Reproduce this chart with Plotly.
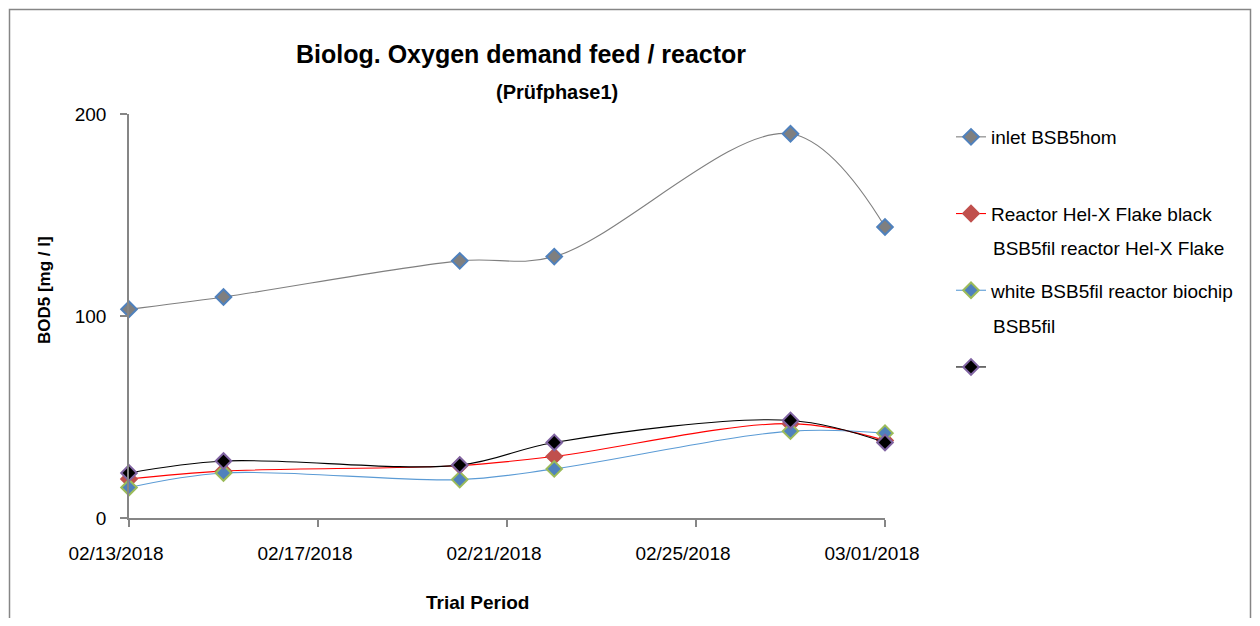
import plotly.graph_objects as go

dates = ["2018-02-13", "2018-02-15", "2018-02-20", "2018-02-22", "2018-02-27", "2018-03-01"]
inlet = [103.3, 109.4, 127.3, 129.4, 190.2, 144.1]
helx_black = [19.3, 23.2, 26.0, 30.5, 46.7, 38.4]
biochip_white = [15.1, 22.3, 19.0, 24.3, 43.0, 42.0]
biochip = [22.3, 28.2, 26.2, 37.4, 48.3, 37.4]

names = ["inlet BSB5hom", "Reactor Hel-X Flake black", "white BSB5fil reactor biochip", " "]
second_lines = ["BSB5fil reactor Hel-X Flake", "BSB5fil"]

FONT = "Liberation Sans, Arial, sans-serif"
AX = "#868686"

OFF = 8  # page body margin
# plot area in screen pixels
L, R, T, B = 129, 885, 114, 518
W, H = 1260 - 2 * OFF, 626 - 2 * OFF  # figure size so the page does not scroll
def px(x): return (x - L) / (R - L)
def py(y): return (B - y) / (B - T)

series = [
    (inlet, names[0], "#7f7f7f", "#7f7f7f", "#4f81bd"),
    (helx_black, names[1], "#ff0000", "#c0504d", "#c0504d"),
    (biochip_white, names[2], "#5b9bd5", "#4f81bd", "#9bbb59"),
    (biochip, names[3], "#000000", "#000000", "#8064a2"),
]

fig = go.Figure()
for i, (vals, nm, lc, mf, mb) in enumerate(series):
    fig.add_trace(go.Scatter(
        x=dates, y=vals, name=nm, mode="lines+markers", cliponaxis=False,
        line=dict(color=lc, width=1.1, shape="spline", smoothing=1.0),
        marker=dict(symbol="diamond", size=12, color=mf, line=dict(color=mb, width=2)),
        legendgroup=f"g{i}",
    ))

fig.update_layout(
    width=W, height=H,
    margin=dict(l=L - OFF, r=W - (R - OFF), t=T - OFF, b=H - (B - OFF)),
    paper_bgcolor="white", plot_bgcolor="white",
    font=dict(family=FONT, size=19, color="black"),
    showlegend=True,
    legend=dict(
        xref="container", yref="container",
        x=(951 - OFF) / W, y=1 - (118 - OFF) / H, xanchor="left", yanchor="top",
        font=dict(size=19, family=FONT), tracegroupgap=49,
        bgcolor="rgba(0,0,0,0)", itemwidth=30,
    ),
    xaxis=dict(
        type="date", range=["2018-02-13", "2018-03-01"],
        tick0="2018-02-13", dtick=4 * 86400000, tickformat="%m/%d/%Y",
        ticks="outside", ticklen=7, tickcolor=AX, tickwidth=1.5,
        showline=True, linecolor=AX, linewidth=1.5, showgrid=False, zeroline=False,
        ticklabelstandoff=10, ticklabelshift=-13,
        tickfont=dict(size=19, family=FONT),
    ),
    yaxis=dict(
        range=[0, 200], dtick=100,
        ticks="outside", ticklen=7, tickcolor=AX, tickwidth=1.5,
        showline=True, linecolor=AX, linewidth=1.5, showgrid=False, zeroline=False,
        ticklabelstandoff=10,
        tickfont=dict(size=19, family=FONT),
    ),
)

annots = [
    dict(text="<b>Biolog. Oxygen demand feed / reactor</b>", x=px(521), y=py(54), font=dict(size=25)),
    dict(text="<b>(Prüfphase1)</b>", x=px(557), y=py(92), font=dict(size=20)),
    dict(text="<b>BOD5 [mg / l]</b>", x=px(44), y=py(290), font=dict(size=17), textangle=-90),
    dict(text="<b>Trial Period</b>", x=px(477), y=py(602), font=dict(size=19)),
    dict(text=second_lines[0], x=px(991), y=py(249), xanchor="left", font=dict(size=19)),
    dict(text=second_lines[1], x=px(991), y=py(326), xanchor="left", font=dict(size=19)),
]
for a in annots:
    a.setdefault("xanchor", "center")
    fig.add_annotation(xref="paper", yref="paper", showarrow=False, yanchor="middle",
                       font_family=FONT, **a)

fig.add_shape(type="rect", xref="paper", yref="paper",
              x0=px(9.5), x1=px(1250.5), y0=py(660), y1=py(9.5),
              line=dict(color=AX, width=1.5), fillcolor="rgba(0,0,0,0)", layer="below")

fig.write_html("out.html")
